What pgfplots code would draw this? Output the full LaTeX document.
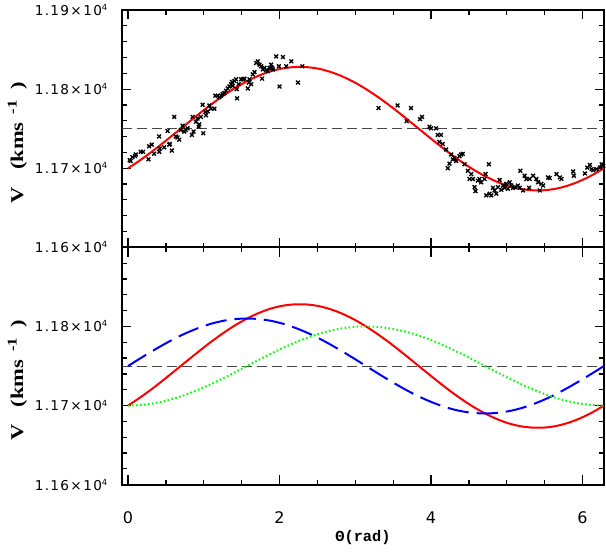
\documentclass[border=0pt]{standalone}
\usepackage{fontspec}
\setmainfont{DejaVu Sans}
\newfontfamily\tickfont[LetterSpace=10]{DejaVu Sans}
\newfontfamily\xtickfont{DejaVu Sans}
\newfontfamily\ylabfont[FakeStretch=1.25]{Liberation Serif}
\newfontfamily\xlabfont{Liberation Mono}
\usepackage{pgfplots}
\pgfplotsset{compat=1.18}
\newcommand{\yl}[1]{1.#1×10\textsuperscript{\fontsize{6.3}{7}\selectfont 4}}
\begin{document}
\begin{tikzpicture}
\pgfplotsset{
 common/.style={
  width=361.5pt, height=178pt, scale only axis,
  xmin=-0.08, xmax=6.2832, ymin=11600, ymax=11900,
  scaled y ticks=false, scaled x ticks=false,
  axis line style={line width=1.3pt},
  tick style={black, line width=0.9pt},
  tick align=inside,
  xtick={0,2,4,6}, minor x tick num=3,
  ytick={11600,11700,11800,11900}, minor y tick num=4,
  major tick length=7pt, minor tick length=3.5pt,
  yticklabel style={font=\tickfont\fontsize{10.2}{11}\selectfont, xshift=-7pt},
  xticklabel style={font=\xtickfont\fontsize{12}{14}\selectfont, yshift=-17pt},
  /pgf/number format/assume math mode=true,
  ylabel={\bfseries V\hspace{13pt}(kms\hspace{6pt}{\fontsize{10}{12}\selectfont\raisebox{5pt}{-1}}\hspace{8pt})},
  ylabel style={at={(axis description cs:-0.217,0.44)}, anchor=center, font=\ylabfont\fontsize{13.5}{15}\selectfont},
  clip=true,
 }
}
\begin{axis}[common, name=top,
  xticklabels={},
  yticklabels={\yl{16},\yl{17},\yl{18},\yl{19}}]
\addplot[color={rgb,255:red,70;green,70;blue,70}, line width=0.6pt, dash pattern=on 7.5pt off 3.75pt] coordinates {(-0.08,11750)(6.2832,11750)};
\addplot[only marks, mark=x, mark size=2pt, mark options={line width=1pt, black}] coordinates {
(0.035,11709.1)(0.022,11710.3)(0.057,11714.0)(0.093,11715.3)(0.102,11717.4)(0.168,11720.7)(0.199,11720.7)(0.269,11711.2)(0.278,11727.7)(0.313,11729.8)
(0.344,11718.2)(0.411,11720.7)(0.419,11724.8)(0.411,11740.1)(0.477,11726.4)(0.521,11747.1)(0.543,11729.8)(0.552,11730.6)(0.578,11722.3)(0.609,11764.9)
(0.631,11740.1)(0.675,11736.0)(0.653,11738.8)(0.698,11748.3)(0.720,11753.7)(0.742,11746.3)(0.764,11748.3)(0.786,11750.4)(0.843,11742.1)(0.852,11764.9)
(0.865,11746.3)(0.896,11758.7)(0.918,11762.8)(0.932,11752.5)(0.940,11755.4)(0.962,11764.9)(0.985,11780.2)(0.993,11744.2)(1.020,11771.1)(1.029,11766.9)
(1.051,11771.9)(1.073,11779.3)(1.095,11775.2)(1.139,11775.2)(1.152,11791.7)(1.183,11791.7)(1.205,11789.7)(1.227,11791.7)(1.249,11793.8)(1.272,11795.0)
(1.294,11797.9)(1.316,11800.8)(1.338,11803.3)(1.360,11806.2)(1.373,11809.1)(1.382,11804.1)(1.404,11810.3)(1.426,11812.4)(1.435,11800.0)(1.439,11788.4)
(1.461,11806.2)(1.492,11812.4)(1.514,11812.4)(1.536,11813.2)(1.581,11800.8)(1.594,11808.3)(1.603,11812.4)(1.625,11806.2)(1.647,11818.6)(1.669,11821.5)
(1.691,11833.1)(1.713,11835.1)(1.735,11831.0)(1.757,11828.9)(1.770,11813.2)(1.779,11824.8)(1.801,11826.9)(1.823,11824.0)(1.845,11822.7)(1.868,11826.9)
(1.890,11831.0)(1.903,11826.9)(1.912,11824.8)(1.956,11841.3)(1.991,11828.9)(2.000,11803.3)(2.044,11840.5)(2.088,11828.9)(2.155,11835.1)(2.243,11808.3)
(2.300,11828.9)
(3.307,11776.0)(3.558,11779.3)(3.735,11776.0)(3.678,11759.5)(3.854,11762.0)(3.881,11764.9)(3.978,11752.5)(4.000,11750.4)(4.066,11750.4)(4.088,11742.1)
(4.132,11742.1)(4.110,11733.1)(4.155,11730.6)(4.199,11723.6)(4.221,11700.0)(4.243,11705.8)(4.265,11717.4)(4.287,11711.2)(4.309,11713.2)(4.331,11709.1)
(4.375,11715.3)(4.397,11717.4)(4.419,11718.2)(4.442,11705.0)(4.486,11696.7)(4.508,11686.4)(4.530,11692.6)(4.552,11686.4)(4.574,11676.0)(4.587,11671.1)
(4.618,11684.3)(4.640,11686.4)(4.662,11682.2)(4.706,11686.4)(4.720,11692.6)(4.728,11665.7)(4.764,11705.0)(4.773,11667.8)(4.795,11665.7)(4.817,11675.2)
(4.839,11671.9)(4.861,11667.8)(4.883,11676.0)(4.905,11685.1)(4.927,11672.7)(4.949,11678.1)(4.971,11675.2)(4.993,11680.2)(5.015,11674.0)(5.038,11682.2)
(5.060,11678.1)(5.082,11675.2)(5.104,11676.0)(5.148,11678.1)(5.170,11675.2)(5.179,11696.7)(5.214,11671.9)(5.236,11690.5)(5.258,11686.4)(5.294,11675.2)
(5.302,11686.4)(5.347,11690.5)(5.391,11686.4)(5.413,11682.2)(5.435,11671.9)(5.457,11680.2)(5.479,11678.1)(5.545,11688.4)(5.567,11687.6)(5.656,11692.6)
(5.700,11688.4)(5.722,11686.4)(5.876,11695.9)(5.885,11690.5)(6.031,11693.4)(6.062,11700.8)(6.097,11704.1)(6.119,11698.8)(6.141,11697.5)(6.185,11698.8)
(6.230,11700.8)(6.252,11705.0)(6.274,11702.9)
};
\addplot[red, line width=1.5pt, smooth] coordinates {
(0,11700)(0.1571,11710.0)(0.3142,11720.9)(0.4712,11732.6)(0.6283,11744.8)(0.7854,11757.0)(0.9425,11769.1)(1.0996,11780.8)(1.2566,11791.6)(1.4137,11801.5)
(1.5708,11810)(1.7279,11817.1)(1.8850,11822.6)(2.0420,11826.2)(2.1991,11827.9)(2.3562,11827.8)(2.5133,11825.8)(2.6704,11821.8)(2.8274,11816.1)(2.9845,11808.8)
(3.1416,11800)(3.2987,11790.0)(3.4558,11779.1)(3.6128,11767.4)(3.7699,11755.2)(3.9270,11743.0)(4.0841,11730.9)(4.2412,11719.2)(4.3982,11708.4)(4.5553,11698.5)
(4.7124,11690)(4.8695,11682.9)(5.0265,11677.4)(5.1836,11673.8)(5.3407,11672.1)(5.4978,11672.2)(5.6549,11674.2)(5.8119,11678.2)(5.9690,11683.9)(6.1261,11691.2)
(6.2832,11700)};
\end{axis}
\begin{axis}[common, name=bot, at={(top.south west)}, anchor=north west,
  xticklabels={0,2,4,6},
  xlabel={\bfseries Θ(rad)},
  xlabel style={font=\xlabfont\fontsize{11.5}{13}\selectfont, at={(axis description cs:0.5,0)}, anchor=center, yshift=-39.5pt},
  yticklabels={\yl{16},\yl{17},\yl{18},{}}]
\addplot[color={rgb,255:red,70;green,70;blue,70}, line width=0.6pt, dash pattern=on 7.5pt off 3.75pt] coordinates {(-0.08,11750)(6.2832,11750)};
\addplot[red, line width=1.5pt, smooth] coordinates {
(0,11700)(0.1571,11710.0)(0.3142,11720.9)(0.4712,11732.6)(0.6283,11744.8)(0.7854,11757.0)(0.9425,11769.1)(1.0996,11780.8)(1.2566,11791.6)(1.4137,11801.5)
(1.5708,11810)(1.7279,11817.1)(1.8850,11822.6)(2.0420,11826.2)(2.1991,11827.9)(2.3562,11827.8)(2.5133,11825.8)(2.6704,11821.8)(2.8274,11816.1)(2.9845,11808.8)
(3.1416,11800)(3.2987,11790.0)(3.4558,11779.1)(3.6128,11767.4)(3.7699,11755.2)(3.9270,11743.0)(4.0841,11730.9)(4.2412,11719.2)(4.3982,11708.4)(4.5553,11698.5)
(4.7124,11690)(4.8695,11682.9)(5.0265,11677.4)(5.1836,11673.8)(5.3407,11672.1)(5.4978,11672.2)(5.6549,11674.2)(5.8119,11678.2)(5.9690,11683.9)(6.1261,11691.2)
(6.2832,11700)};
\addplot[blue, line width=1.5pt, smooth, dash pattern=on 16pt off 6pt] coordinates {
(0,11750)(0.1571,11759.4)(0.3142,11768.5)(0.4712,11777.2)(0.6283,11785.3)(0.7854,11792.4)(0.9425,11798.5)(1.0996,11803.5)(1.2566,11807.1)(1.4137,11809.3)
(1.5708,11810)(1.7279,11809.3)(1.8850,11807.1)(2.0420,11803.5)(2.1991,11798.5)(2.3562,11792.4)(2.5133,11785.3)(2.6704,11777.2)(2.8274,11768.5)(2.9845,11759.4)
(3.1416,11750)(3.2987,11740.6)(3.4558,11731.5)(3.6128,11722.8)(3.7699,11714.7)(3.9270,11707.6)(4.0841,11701.5)(4.2412,11696.5)(4.3982,11692.9)(4.5553,11690.7)
(4.7124,11690)(4.8695,11690.7)(5.0265,11692.9)(5.1836,11696.5)(5.3407,11701.5)(5.4978,11707.6)(5.6549,11714.7)(5.8119,11722.8)(5.9690,11731.5)(6.1261,11740.6)
(6.2832,11750)};
\addplot[color={rgb,255:red,0;green,255;blue,0}, line width=1.5pt, smooth, dash pattern=on 1.2pt off 1.8pt] coordinates {
(0,11700)(0.1571,11700.6)(0.3142,11702.4)(0.4712,11705.4)(0.6283,11709.5)(0.7854,11714.6)(0.9425,11720.6)(1.0996,11727.3)(1.2566,11734.5)(1.4137,11742.2)
(1.5708,11750)(1.7279,11757.8)(1.8850,11765.5)(2.0420,11772.7)(2.1991,11779.4)(2.3562,11785.4)(2.5133,11790.5)(2.6704,11794.6)(2.8274,11797.6)(2.9845,11799.4)
(3.1416,11800)(3.2987,11799.4)(3.4558,11797.6)(3.6128,11794.6)(3.7699,11790.5)(3.9270,11785.4)(4.0841,11779.4)(4.2412,11772.7)(4.3982,11765.5)(4.5553,11757.8)
(4.7124,11750)(4.8695,11742.2)(5.0265,11734.5)(5.1836,11727.3)(5.3407,11720.6)(5.4978,11714.6)(5.6549,11709.5)(5.8119,11705.4)(5.9690,11702.4)(6.1261,11700.6)
(6.2832,11700)};
\end{axis}
\pgfresetboundingbox
\path ([shift={(-91.5pt,7.5pt)}]top.north west) rectangle ([shift={(1.5pt,-50.25pt)}]bot.south east);
\end{tikzpicture}
\end{document}
